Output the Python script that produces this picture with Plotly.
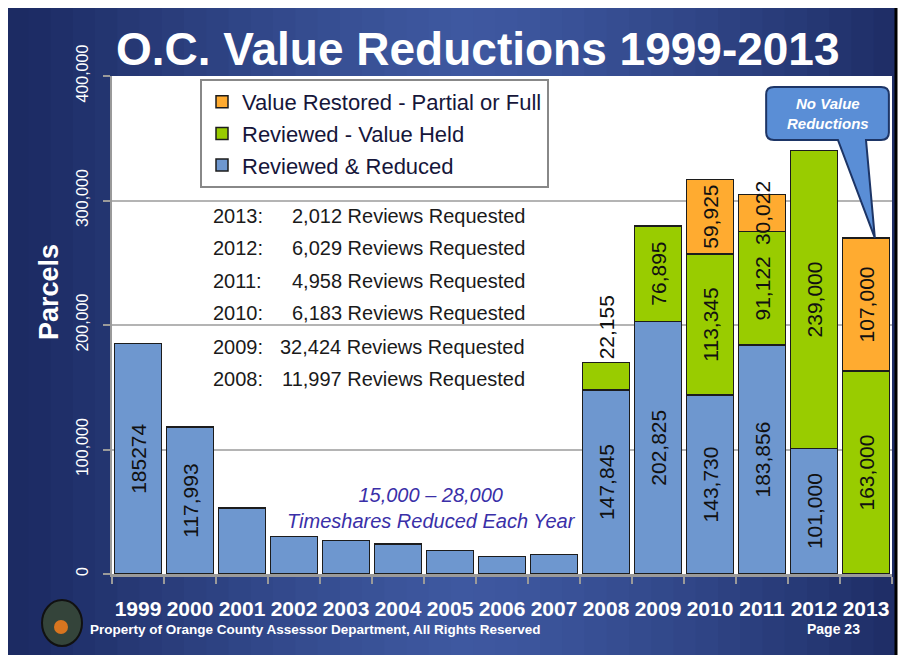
import plotly.graph_objects as go

years   = [1999, 2000, 2001, 2002, 2003, 2004, 2005, 2006, 2007, 2008, 2009, 2010, 2011, 2012, 2013]
reduced = [185274, 117993, 53000, 30000, 27000, 24000, 19000, 14000, 15500,
           147845, 202825, 143730, 183856, 101000, None]
held    = [None] * 9 + [22155, 76895, 113345, 91122, 239000, 163000]
restored = [None] * 11 + [59925, 30022, None, 107000]

reduced_labels = ["185274", "117,993", "", "", "", "", "", "", "",
                  "147,845", "202,825", "143,730", "183,856", "101,000", ""]

review_years  = ["2013:", "2012:", "2011:", "2010:", "2009:", "2008:"]
review_counts = ["2,012", "6,029", "4,958", "6,183", "32,424", "11,997"]

y_ticks = [0, 100000, 200000, 300000, 400000]

FONT = "Liberation Sans, Arial, sans-serif"

# page has an 8px body margin; coordinates below are screen pixels
OFF = 8
FIG_W, FIG_H = 890, 647
L, R, T, B = 112, 892, 76, 574
W, H = R - L, B - T


def px(x):
    return (x - L) / W


def py(y):
    return (B - y) / H


def lab(v):
    return "" if v is None else f"{v:,}"


fig = go.Figure()

fig.add_trace(go.Bar(
    x=years, y=reduced, name="Reviewed & Reduced",
    marker=dict(color="#6e97cf", line=dict(color="#1c1c1c", width=1.5)),
    text=reduced_labels, textposition="inside",
))
fig.add_trace(go.Bar(
    x=years, y=held, name="Reviewed - Value Held",
    marker=dict(color="#99cc00", line=dict(color="#1c1c1c", width=1.5)),
    text=[lab(v) for v in held],
    textposition=["outside" if yr == 2008 else "inside" for yr in years],
))
fig.add_trace(go.Bar(
    x=years, y=restored, name="Value Restored - Partial or Full",
    marker=dict(color="#ffab30", line=dict(color="#1c1c1c", width=1.5)),
    text=[lab(v) for v in restored], textposition="inside",
))
fig.update_traces(
    textangle=-90, insidetextanchor="middle", constraintext="none",
    textfont=dict(family=FONT, size=21, color="#111"),
    cliponaxis=False, hoverinfo="x+y+name",
)

# slide background: dark navy edges, lighter middle (drawn as strips)
shapes = []
edge, mid = (28, 43, 99), (62, 88, 160)
n = 40
step = (896 - 6) / n
for i in range(n):
    cx = 6 + (i + 0.5) * step
    t = min(abs(cx - 470) / 440, 1) ** 1.3
    c = tuple(round(m + (e - m) * t) for m, e in zip(mid, edge))
    shapes.append(dict(type="rect", xref="paper", yref="paper", layer="below",
                       x0=px(6 + i * step), x1=px(6 + (i + 1) * step + 1),
                       y0=py(662), y1=py(6),
                       fillcolor=f"rgb{c}", line=dict(width=0)))
shapes += [
    dict(type="rect", xref="paper", yref="paper", layer="below",
         x0=px(6), x1=px(896), y0=py(662), y1=py(6),
         line=dict(color="#000", width=3)),
    # white plot panel
    dict(type="rect", xref="paper", yref="paper", layer="below",
         x0=0, x1=1, y0=0, y1=1, fillcolor="white", line=dict(width=0)),
    # logo
    dict(type="circle", xref="paper", yref="paper",
         x0=px(42), x1=px(82), y0=py(646), y1=py(600),
         fillcolor="#34443a", line=dict(color="#111", width=2)),
    dict(type="circle", xref="paper", yref="paper",
         x0=px(54), x1=px(68), y0=py(634), y1=py(620),
         fillcolor="#d8751f", line=dict(width=0)),
]

# callout bubble pointing at the 2013 bar top
top13 = held[-1] + restored[-1]
bx0, bx1 = 2011.08, 2013.44
by0, by1 = 348600, 391200
rx, ry = 0.15, 6000
tipx = 2013.17
path = (f"M {bx0+rx},{by1} L {bx1-rx},{by1} Q {bx1},{by1} {bx1},{by1-ry} "
        f"L {bx1},{by0+ry} Q {bx1},{by0} {bx1-rx},{by0} L 2013.0,{by0} "
        f"L {tipx},{top13} L 2012.46,{by0} L {bx0+rx},{by0} Q {bx0},{by0} {bx0},{by0+ry} "
        f"L {bx0},{by1-ry} Q {bx0},{by1} {bx0+rx},{by1} Z")
shapes.append(dict(type="path", xref="x", yref="y", path=path,
                   fillcolor="#5a8ed6", line=dict(color="#1d3566", width=2)))

annotations = [
    dict(text="<b>O.C. Value Reductions 1999-2013</b>", x=px(478), y=py(49),
         font=dict(family=FONT, size=46, color="white")),
    dict(text="<b>Parcels</b>", x=px(49), y=py(292), textangle=-90,
         font=dict(family=FONT, size=27, color="white")),
    dict(text="<b><i>No Value<br>Reductions</i></b>", x=2012.26, y=370000,
         xref="x", yref="y",
         font=dict(family=FONT, size=15, color="white")),
    dict(text="<i>15,000 – 28,000<br>Timeshares Reduced Each Year</i>",
         x=px(431), y=py(508),
         font=dict(family=FONT, size=20, color="#3a2fa8")),
    dict(text="<b>Property of Orange County Assessor Department, All Rights Reserved</b>",
         x=px(88), y=py(629), xanchor="left",
         font=dict(family=FONT, size=13.5, color="white")),
    dict(text="<b>Page 23</b>", x=px(833), y=py(629),
         font=dict(family=FONT, size=14, color="white")),
]
for i, (yr, cnt) in enumerate(zip(review_years, review_counts)):
    ypos = py([216, 248, 281, 313, 347, 379][i])
    annotations.append(dict(text=yr, x=px(211), y=ypos, xanchor="left",
                            font=dict(family=FONT, size=20, color="#1a1a1a")))
    annotations.append(dict(text=f"{cnt} Reviews Requested", x=px(527), y=ypos,
                            xanchor="right",
                            font=dict(family=FONT, size=20, color="#1a1a1a")))
for a in annotations:
    a.setdefault("xref", "paper")
    a.setdefault("yref", "paper")
    a.setdefault("xanchor", "center")
    a.setdefault("yanchor", "middle")
    a.setdefault("showarrow", False)

fig.update_layout(
    width=FIG_W, height=FIG_H, autosize=False,
    margin=dict(l=L - OFF, r=FIG_W + OFF - R, t=T - OFF, b=FIG_H + OFF - B),
    paper_bgcolor="white", plot_bgcolor="white",
    barmode="stack", bargap=0.1,
    shapes=shapes, annotations=annotations,
    legend=dict(
        x=px(200), y=py(79), xanchor="left", yanchor="top",
        traceorder="reversed", bgcolor="white",
        bordercolor="#888", borderwidth=2,
        font=dict(family=FONT, size=22, color="#16163a"),
        tracegroupgap=0, itemwidth=30,
    ),
    xaxis=dict(
        range=[1998.5, 2013.5], tickvals=years,
        ticktext=[f"<b>{y}</b>" for y in years],
        ticks="", ticklabelstandoff=14,
        tickfont=dict(family=FONT, size=21, color="white"),
        showline=True, linecolor="#9a9a9a", linewidth=3,
        showgrid=False, zeroline=False,
        minor=dict(tickvals=[y + 0.5 for y in [1998] + years], ticks="outside",
                   ticklen=7, tickcolor="#9a9a9a", tickwidth=2),
    ),
    yaxis=dict(
        range=[0, 400000], tickvals=y_ticks, tickformat=",",
        tickangle=-90, ticks="outside", ticklen=7, tickcolor="#9a9a9a",
        tickwidth=2, ticklabelstandoff=9,
        tickfont=dict(family=FONT, size=16, color="white"),
        showline=True, linecolor="#9a9a9a", linewidth=2,
        showgrid=True, gridcolor="#b4b4b4", gridwidth=2, zeroline=False,
    ),
    font=dict(family=FONT),
)

fig.write_html("out.html")
